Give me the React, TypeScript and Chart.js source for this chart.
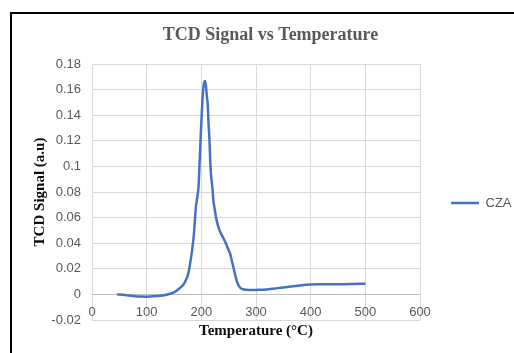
import React, { useEffect, useRef } from "react";
import { Chart, registerables } from "chart.js";

Chart.register(...registerables);

const TITLE = "TCD Signal vs Temperature";
const X_TITLE = "Temperature (°C)";
const Y_TITLE = "TCD Signal (a.u)";
const SERIES_NAME = "CZA";

const X_MIN = 0;
const X_MAX = 600;
const X_STEP = 100;
const Y_MIN = -0.02;
const Y_MAX = 0.18;
const Y_STEP = 0.02;

const TEMPERATURE = [
  46, 60, 75, 90, 100, 115, 130, 143, 150, 155, 161, 167, 172, 176, 180, 183,
  186.5, 190, 193, 195, 197, 199, 201, 203, 205, 206.7, 208.5, 210, 211.6, 213,
  214.6, 217, 220.7, 222, 225, 228, 232, 236, 241, 245, 249, 252.5, 255.5,
  258.5, 261.5, 264.5, 267.5, 271, 276, 282, 290, 300, 320, 340, 360, 380, 400,
  420, 440, 460, 480, 500,
];

const SIGNAL = [
  0, -0.0004, -0.0012, -0.0017, -0.0018, -0.0014, -0.0008, 0.0005, 0.0015,
  0.003, 0.005, 0.0075, 0.0115, 0.016, 0.0255, 0.034, 0.0475, 0.068, 0.077,
  0.085, 0.105, 0.125, 0.143, 0.158, 0.1655, 0.1668, 0.163, 0.155, 0.149,
  0.135, 0.123, 0.098, 0.081, 0.0736, 0.065, 0.058, 0.0515, 0.0475, 0.0435,
  0.0397, 0.0355, 0.032, 0.027, 0.0214, 0.016, 0.011, 0.0075, 0.0052, 0.004,
  0.0036, 0.0034, 0.0035, 0.0039, 0.0049, 0.006, 0.007, 0.0077, 0.0079, 0.008,
  0.008, 0.0082, 0.0084,
];

const GRID = "#d9d9d9";
const AXIS = "#bfbfbf";
const TEXT = "#595959";
const LINE = "#4472C4";

export default function App() {
  const canvasRef = useRef<HTMLCanvasElement | null>(null);

  useEffect(() => {
    const canvas = canvasRef.current;
    if (!canvas) return;
    Chart.defaults.font.family = "'Liberation Sans', Arial, sans-serif";
    Chart.defaults.color = TEXT;

    const chart = new Chart(canvas, {
      type: "line",
      data: {
        datasets: [
          {
            label: SERIES_NAME,
            data: TEMPERATURE.map((t, i) => ({ x: t, y: SIGNAL[i] })),
            borderColor: LINE,
            backgroundColor: LINE,
            borderWidth: 2.5,
            pointRadius: 0,
            fill: false,
            cubicInterpolationMode: "monotone",
          },
        ],
      },
      options: {
        animation: false,
        responsive: true,
        maintainAspectRatio: false,
        layout: { padding: { left: 27, right: 0, top: 0, bottom: 33 } },
        plugins: {
          title: {
            display: true,
            text: TITLE,
            color: TEXT,
            font: { family: "'Liberation Serif', 'Times New Roman', serif", size: 18, weight: "bold" },
            padding: { top: 24.2, bottom: 18.2 },
          },
          legend: {
            display: true,
            position: "right",
            fullSize: false,
            maxWidth: 94,
            title: { display: true, text: "", font: { size: 10 }, padding: 5 },
            labels: {
              usePointStyle: true,
              pointStyle: "line",
              pointStyleWidth: 28,
              padding: 31,
              color: TEXT,
              font: { size: 13 },
            },
          },
          tooltip: { enabled: false },
        },
        scales: {
          x: {
            type: "linear",
            position: { y: 0 } as any,
            min: X_MIN,
            max: X_MAX,
            ticks: { stepSize: X_STEP, padding: 10, color: TEXT, font: { size: 13 } },
            grid: { color: GRID, drawTicks: false, lineWidth: 1 },
            border: { display: true, color: AXIS, width: 1 },
            title: {
              display: true,
              text: X_TITLE,
              color: "#0d0d0d",
              font: { family: "'Liberation Serif', 'Times New Roman', serif", size: 15, weight: "bold" },
              padding: { top: -7.6, bottom: -13 },
            },
          },
          y: {
            type: "linear",
            min: Y_MIN,
            max: Y_MAX,
            afterFit: (scale: any) => {
              scale.width = 65;
            },
            ticks: {
              stepSize: Y_STEP,
              padding: 11,
              color: TEXT,
              font: { size: 13 },
              callback: (v: any) => String(Number(Number(v).toFixed(2))),
            },
            grid: {
              drawTicks: false,
              lineWidth: 1,
              color: (ctx: any) =>
                ctx.tick && Math.abs(ctx.tick.value) < 1e-9 ? AXIS : GRID,
            },
            border: { display: false },
            title: {
              display: true,
              text: Y_TITLE,
              color: "#0d0d0d",
              font: { family: "'Liberation Serif', 'Times New Roman', serif", size: 15, weight: "bold" },
              padding: { top: 4, bottom: 4 },
            },
          },
        },
      },
    });

    return () => chart.destroy();
  }, []);

  return (
    <div
      style={{
        position: "fixed",
        left: 0,
        top: 0,
        width: 514,
        height: 353,
        background: "#fff",
        overflow: "hidden",
      }}
    >
      <div
        style={{
          position: "absolute",
          left: 10,
          top: 12,
          width: 600,
          height: 400,
          borderLeft: "2px solid #000",
          borderTop: "2px solid #000",
        }}
      />
      <div style={{ position: "absolute", left: 0, top: 0, width: 514, height: 353 }}>
        <canvas ref={canvasRef} />
      </div>
    </div>
  );
}
